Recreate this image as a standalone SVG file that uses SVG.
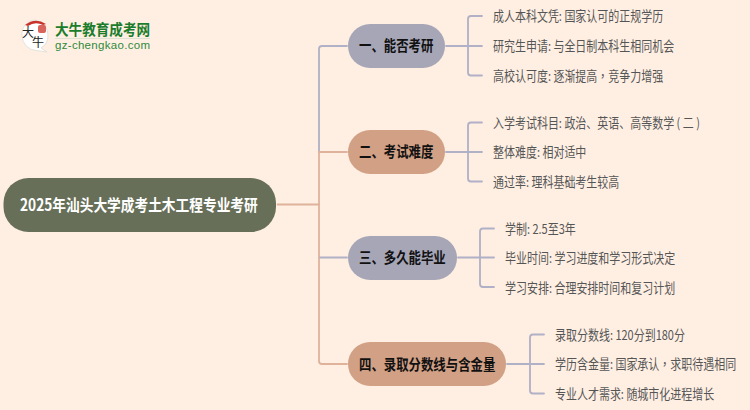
<svg xmlns="http://www.w3.org/2000/svg" width="750" height="410" viewBox="0 0 750 410">
<style>
text{font-family:"Noto Sans CJK SC","Liberation Sans",sans-serif}
.c{fill:none;stroke-width:1.800;stroke-linecap:round}
.b{stroke:#b0b0c6}.o{stroke:#deb29b}
.h{font-size:12.400px;font-weight:700;fill:#111}
.l{font-size:11px;fill:#555}
.p{font-family:"Noto Sans CJK TC","Liberation Sans",sans-serif}
</style>
<rect width="750" height="410" fill="#ffefe3"/>
<g id="connectors">
<path class="c o" d="M277.500 204.500H319"/>
<path class="c b" d="M347 46H322Q319 46 319 49V152"/>
<path class="c o" d="M347 152H319V361Q319 364 322 364H347"/>
<path class="c b" d="M320 257.500H347"/>
<path class="c b" d="M446 46H482M482 16H471Q468 16 468 19V72.500Q468 75.500 471 75.500H482"/>
<path class="c b" d="M446 152H482M482 122.500H471Q468 122.500 468 125.500V178.500Q468 181.500 471 181.500H482"/>
<path class="c b" d="M458 257.500H494M494 228.500H483Q480 228.500 480 231.500V284Q480 287 483 287H494"/>
<path class="c b" d="M507 364H544M544 334.500H533Q530 334.500 530 337.500V390.500Q530 393.500 533 393.500H544"/>
</g>
<g id="logo">
<path d="M35 20A15 15 0 0 1 48 36A14 14 0 0 1 41 48L47 52L36 50.500A15 15 0 0 1 22 36A14 14 0 0 1 35 20Z" fill="#fff" stroke="#e4e2da"/>
<path d="M25 25Q35 17 46 24L43 25Q35 21 28 26Z" fill="#c8322c"/>
<rect x="38" y="25" width="8" height="8" rx="2" fill="#d9645c"/>
<text transform="translate(22 37)" font-size="12" fill="#222">大</text>
<text transform="translate(32 47)" font-size="12" fill="#222">牛</text>
<text transform="translate(55 35) scale(1 1.1)" font-size="13.600" font-weight="700" fill="#1a7d2c">大牛教育成考网</text>
<rect x="55" y="38" width="95" height="1" fill="#dfe3d3"/>
<text x="55" y="49" font-size="11.500" fill="#2f8a3c" textLength="95" style="font-family:'Liberation Sans',sans-serif">gz-chengkao.com</text>
</g>
<g id="root">
<rect x="3.500" y="178" width="272.500" height="54" rx="25" fill="#686f59"/>
<text transform="translate(20 210.500) scale(1 1.200)" font-size="13.700" font-weight="700" fill="#fff">2025年汕头大学成考土木工程专业考研</text>
</g>
<g id="n1"><rect x="348" y="24" width="97" height="44" rx="22" fill="#a6a6b7"/><text class="h" transform="translate(359 51) scale(1 1.200)">一、能否考研</text></g>
<g id="n2"><rect x="348" y="130" width="97" height="44" rx="22" fill="#d1a085"/><text class="h" transform="translate(359 157) scale(1 1.200)">二、考试难度</text></g>
<g id="n3"><rect x="348" y="236" width="109" height="44" rx="22" fill="#a6a6b7"/><text class="h" transform="translate(359 263) scale(1 1.200)">三、多久能毕业</text></g>
<g id="n4"><rect x="348" y="342" width="158" height="44" rx="22" fill="#d1a085"/><text class="h" transform="translate(359 369.500) scale(1 1.200)">四、录取分数线与含金量</text></g>
<g id="leaves1"><text class="l" transform="translate(493 21) scale(1 1.200)">成人本科文凭: 国家认可的正规学历</text><text class="l" transform="translate(493 51) scale(1 1.200)">研究生申请: 与全日制本科生相同机会</text><text class="l" transform="translate(493 80.500) scale(1 1.200)">高校认可度: 逐渐提高<tspan class="p">，</tspan>竞争力增强</text></g>
<g id="leaves2"><text class="l" transform="translate(493 127.500) scale(1 1.200)">入学考试科目: 政治、英语、高等数学 ( 二 )</text><text class="l" transform="translate(493 157) scale(1 1.200)">整体难度: 相对适中</text><text class="l" transform="translate(493 186.500) scale(1 1.200)">通过率: 理科基础考生较高</text></g>
<g id="leaves3"><text class="l" transform="translate(505 233.500) scale(1 1.200)">学制: 2.5至3年</text><text class="l" transform="translate(505 263) scale(1 1.200)">毕业时间: 学习进度和学习形式决定</text><text class="l" transform="translate(505 292.500) scale(1 1.200)">学习安排: 合理安排时间和复习计划</text></g>
<g id="leaves4"><text class="l" transform="translate(555 339.500) scale(1 1.200)">录取分数线: 120分到180分</text><text class="l" transform="translate(555 369) scale(1 1.200)">学历含金量: 国家承认<tspan class="p">，</tspan>求职待遇相同</text><text class="l" transform="translate(555 398.500) scale(1 1.200)">专业人才需求: 随城市化进程增长</text></g>
</svg>
